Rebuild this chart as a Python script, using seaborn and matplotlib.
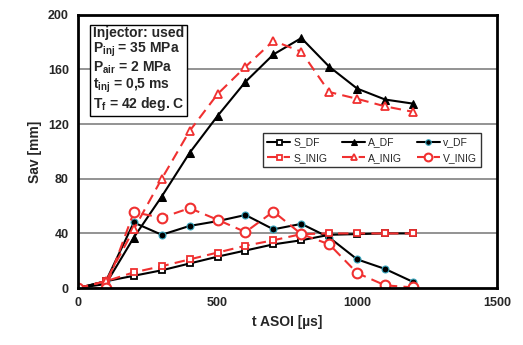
import numpy as np
import pandas as pd
import matplotlib
matplotlib.use("Agg")
import matplotlib.pyplot as plt
import seaborn as sns

# time after start of injection [us]
t = [0, 100, 200, 300, 400, 500, 600, 700, 800, 900, 1000, 1100, 1200]

s_df = [0, 5, 9, 13, 18, 23, 27.5, 32, 35, 39, 39.5, 40, 40]
a_df = [0, 3, 37, 67, 99, 126, 151, 171, 183, 162, 146, 138, 135]
v_df = [0, 5, 48, 39, 45.5, 49, 53.5, 43, 47, 37, 21, 14, 4.5]
s_inig = [0, 5, 11.5, 16, 21, 26, 31, 35, 39.5, 40, 40, 40, 40]
a_inig = [0, 5, 43, 80, 115, 142, 162, 181, 173, 143.5, 138.5, 133, 129]
v_inig = [0, 0, 55.5, 51.5, 58.5, 50, 41, 56, 39.5, 32, 11, 2, 0.5]

sns.set_style("white")
plt.rcParams['font.family'] = ['Liberation Sans', 'DejaVu Sans']
plt.rcParams['mathtext.fontset'] = 'custom'
plt.rcParams['mathtext.rm'] = 'Liberation Sans'
plt.rcParams['mathtext.bf'] = 'Liberation Sans:bold'

fig = plt.figure(figsize=(5.23, 3.45), dpi=100)
ax = fig.add_axes([0.149, 0.165, 0.801, 0.792])

red = '#f03030'
series = [
    ("S_DF", s_df, dict(color='black', ls='-', marker='s', mfc='white', mec='black', ms=4.5, mew=1.3)),
    ("A_DF", a_df, dict(color='black', ls='-', marker='^', mfc='black', mec='black', ms=6)),
    ("v_DF", v_df, dict(color='black', ls='-', marker='o', mfc='black', mec='#3aa8c0', ms=5, mew=0.8)),
    ("S_INIG", s_inig, dict(color=red, ls=(0, (5, 3)), marker='s', mfc='white', mec=red, ms=4.5, mew=1.3)),
    ("A_INIG", a_inig, dict(color=red, ls=(0, (5, 3)), marker='^', mfc='white', mec=red, ms=5.5, mew=1.3)),
    ("V_INIG", v_inig, dict(color=red, ls=(0, (5, 3)), marker='o', mfc='white', mec=red, ms=7, mew=1.5)),
]

for name, vals, st in series:
    df = pd.DataFrame({"t": t, "y": vals})
    sns.lineplot(data=df, x="t", y="y", ax=ax, label=name, lw=1.5, **st)

ax.set_xlim(0, 1500)
ax.set_ylim(0, 200)
ax.set_xticks([0, 500, 1000, 1500])
ax.set_yticks([0, 40, 80, 120, 160, 200])
for yv in [40, 80, 120, 160]:
    ax.axhline(yv, color='#808080', lw=1.2, zorder=0)
for sp in ax.spines.values():
    sp.set_linewidth(2)
    sp.set_color('black')
ax.tick_params(axis='both', labelsize=9, length=3, direction='out', color='#c0c0c0')
for lab in ax.get_xticklabels() + ax.get_yticklabels():
    lab.set_fontweight('bold')

ax.set_xlabel("t ASOI [µs]", fontsize=10, fontweight='bold')
ax.set_ylabel("Sav [mm]", fontsize=10, fontweight='bold')

# legend filled row by row like the original
handles, labels = ax.get_legend_handles_labels()
order = [0, 3, 1, 4, 2, 5]
leg = ax.legend([handles[i] for i in order], [labels[i] for i in order],
                ncol=3, loc='upper left', bbox_to_anchor=(0.43, 0.585), fontsize=7.5,
                frameon=True, fancybox=False, edgecolor='black', handlelength=2.2,
                columnspacing=1.4, handletextpad=0.3, borderpad=0.4, labelspacing=0.5,
                markerscale=0.8)
leg.get_frame().set_linewidth(1.0)

info = ("Injector: used\n"
        r"P$_{\mathbf{inj}}$ = 35 MPa" "\n"
        r"P$_{\mathbf{air}}$ = 2 MPa" "\n"
        r"t$_{\mathbf{inj}}$ = 0,5 ms" "\n"
        r"T$_{\mathbf{f}}$ = 42 deg. C")
ax.text(0.035, 0.96, info, transform=ax.transAxes, fontsize=10, fontweight='bold',
        va='top', ha='left', linespacing=1.05,
        bbox=dict(boxstyle='square,pad=0.2', fc='white', ec='black', lw=1.0))

fig.savefig("out.png", dpi=100)
